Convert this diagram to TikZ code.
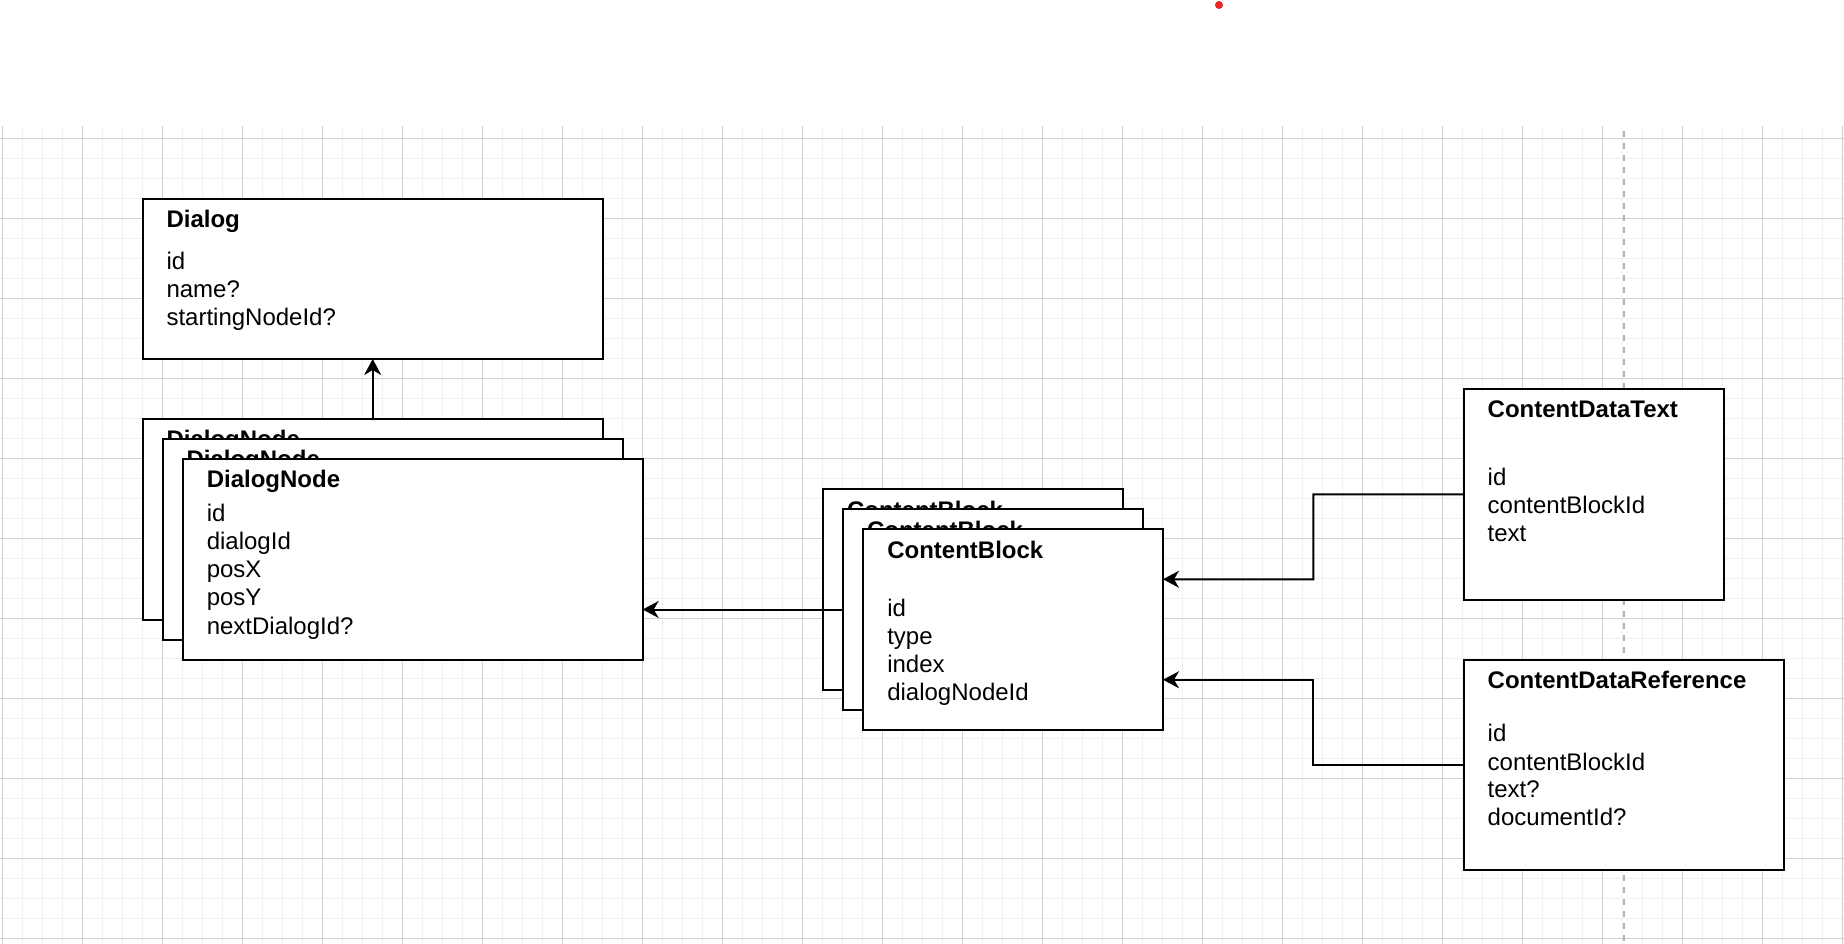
\documentclass[tikz,border=0pt]{standalone}
\usepackage{fontspec}
\setmainfont{Liberation Sans}
\usetikzlibrary{arrows.meta,calc}
\definecolor{gridminor}{RGB}{240,240,240}
\definecolor{gridmajor}{RGB}{208,208,208}
\definecolor{guide}{RGB}{178,178,178}
\definecolor{dotred}{RGB}{228,38,38}
\begin{document}
\begin{tikzpicture}[x=1pt,y=-1pt,
  ent/.style={draw=black,line width=2pt,fill=white,rectangle,inner sep=0pt,outer sep=0pt,anchor=north west},
  ttl/.style={anchor=base west,inner sep=0pt,outer sep=0pt,font=\bfseries\fontsize{24}{28}\selectfont},
  fld/.style={anchor=base west,inner sep=0pt,outer sep=0pt,font=\fontsize{24}{28}\selectfont},
  conn/.style={draw=black,line width=2pt,-{Stealth[length=16pt,width=17pt,inset=5pt]}},
  minorline/.style={draw=gridminor,line width=1.5pt},
  majorline/.style={draw=gridmajor,line width=1pt},
  guideline/.style={draw=guide,line width=2pt,dash pattern=on 6pt off 6pt}]
\fill[white] (0,0) rectangle (1844,944);
\useasboundingbox (0,0) rectangle (1844,944);
% grid
\foreach \i in {0,...,92} {\draw[minorline] ({2.7+20*\i},126) -- ({2.7+20*\i},944);}
\foreach \j in {0,...,40} {\draw[minorline] (0,{138.3+20*\j}) -- (1844,{138.3+20*\j});}
\foreach \i in {0,...,23} {\draw[majorline] ({2.7+80*\i},126) -- ({2.7+80*\i},944);}
\foreach \j in {0,...,10} {\draw[majorline] (0,{138.3+80*\j}) -- (1844,{138.3+80*\j});}
% guide
\coordinate (gtop) at (1623.7,131);
\coordinate (gbot) at (1623.7,944);
\draw[guideline] (gtop) -- (gbot);
% red dot
\fill[dotred] (1219,5) circle (4);
% Dialog
\node[ent,minimum width=460pt,minimum height=160pt] (dialog) at (142.7,199) {};
\node[ttl] (dialogT) at (166.5,227.6) {Dialog};
\node[fld] (dialogA) at (166.5,269.3) {id};
\node[fld] (dialogB) at (166.5,297.3) {name?};
\node[fld] (dialogC) at (166.5,325.3) {startingNodeId?};
% DialogNode stack
\node[ent,minimum width=460pt,minimum height=201pt] (dn1) at (142.7,418.7) {};
\node[ttl] (dn1T) at (166.5,447.3) {DialogNode};
\node[ent,minimum width=460pt,minimum height=201pt] (dn2) at (162.7,438.7) {};
\node[ttl] (dn2T) at (186.5,467.3) {DialogNode};
\node[ent,minimum width=460pt,minimum height=201pt] (dn3) at (182.7,458.7) {};
\node[ttl] (dn3T) at (206.8,487.3) {DialogNode};
\node[fld] (dn3A) at (206.8,521) {id};
\node[fld] (dn3B) at (206.8,549.3) {dialogId};
\node[fld] (dn3C) at (206.8,577.6) {posX};
\node[fld] (dn3D) at (206.8,605.9) {posY};
\node[fld] (dn3E) at (206.8,634.2) {nextDialogId?};
% ContentBlock stack
\node[ent,minimum width=300pt,minimum height=201pt] (cb1) at (823,489) {};
\node[ttl] (cb1T) at (847,518.3) {ContentBlock};
\node[ent,minimum width=300pt,minimum height=201pt] (cb2) at (843,509) {};
\node[ttl] (cb2T) at (867,538.3) {ContentBlock};
\node[ent,minimum width=300pt,minimum height=201pt] (cb3) at (863,529) {};
\node[ttl] (cb3T) at (887.3,558.3) {ContentBlock};
\node[fld] (cb3A) at (887.3,616.5) {id};
\node[fld] (cb3B) at (887.3,644.4) {type};
\node[fld] (cb3C) at (887.3,672.3) {index};
\node[fld] (cb3D) at (887.3,700.1) {dialogNodeId};
% ContentDataText
\node[ent,minimum width=260pt,minimum height=210.7pt] (cdt) at (1463.8,389) {};
\node[ttl] (cdtT) at (1487.7,417.6) {ContentDataText};
\node[fld] (cdtA) at (1487.7,485) {id};
\node[fld] (cdtB) at (1487.7,513.3) {contentBlockId};
\node[fld] (cdtC) at (1487.7,541.6) {text};
% ContentDataReference
\node[ent,minimum width=320pt,minimum height=209.4pt] (cdr) at (1463.8,660.3) {};
\node[ttl] (cdrT) at (1487.7,688.3) {ContentDataReference};
\node[fld] (cdrA) at (1487.7,741.6) {id};
\node[fld] (cdrB) at (1487.7,770) {contentBlockId};
\node[fld] (cdrC) at (1487.7,797.6) {text?};
\node[fld] (cdrD) at (1487.7,825.6) {documentId?};
% connectors
\draw[conn] (dn1.north) -- (dialog.south);
\draw[conn] (cb2.west) -- (cb2.west -| dn3.east);
\coordinate (cbA) at ($(cb3.north east)!0.25!(cb3.south east)$);
\coordinate (cbB) at ($(cb3.north east)!0.75!(cb3.south east)$);
\draw[conn] (cdt.west) -- ($(cdt.west)!0.5!(cdt.west -| cbA)$) |- (cbA);
\draw[conn] (cdr.west) -- ($(cdr.west)!0.5!(cdr.west -| cbB)$) |- (cbB);
\end{tikzpicture}
\end{document}
